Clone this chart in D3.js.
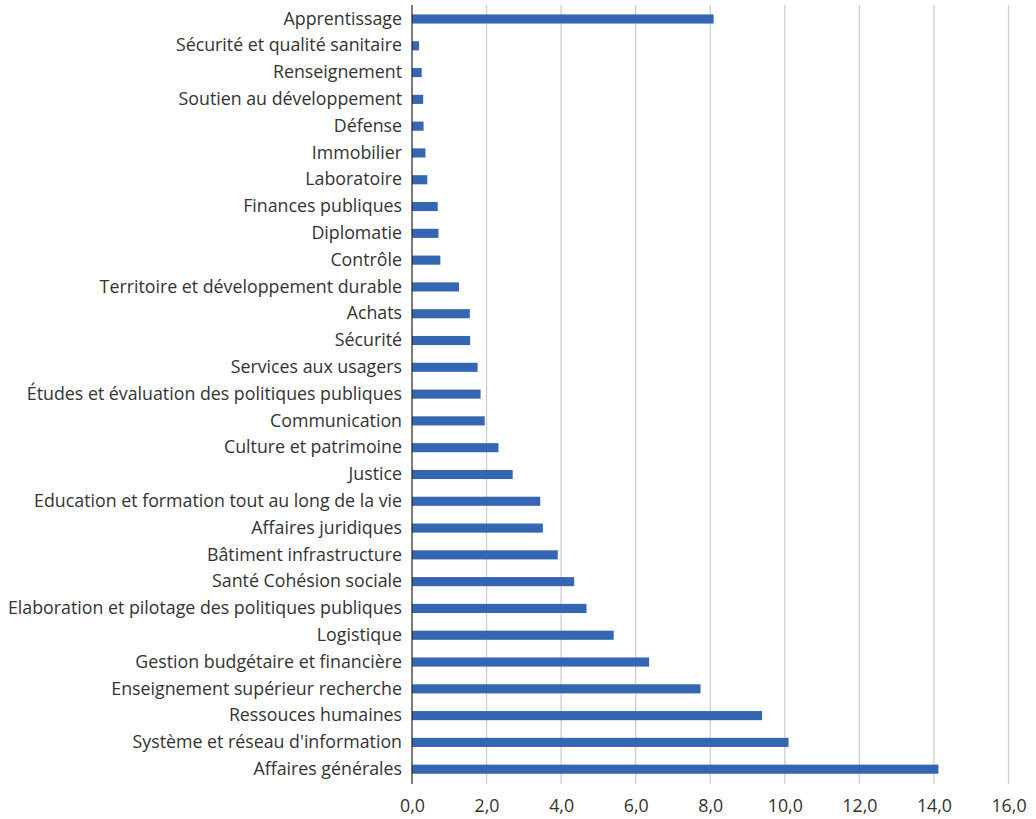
<!DOCTYPE html>
<html><head><meta charset="utf-8">
<script src="https://cdn.jsdelivr.net/npm/d3@7"></script>
<style>
html,body{margin:0;padding:0;background:#fff;}
svg{display:block;}
text{font-family:"Open Sans","Noto Sans",sans-serif;fill:#333;}
</style></head>
<body>
<svg id="chart" width="1036" height="819"></svg>
<script>
const categories = [
  "Apprentissage",
  "Sécurité et qualité sanitaire",
  "Renseignement",
  "Soutien au développement",
  "Défense",
  "Immobilier",
  "Laboratoire",
  "Finances publiques",
  "Diplomatie",
  "Contrôle",
  "Territoire et développement durable",
  "Achats",
  "Sécurité",
  "Services aux usagers",
  "Études et évaluation des politiques publiques",
  "Communication",
  "Culture et patrimoine",
  "Justice",
  "Education et formation tout au long de la vie",
  "Affaires juridiques",
  "Bâtiment infrastructure",
  "Santé Cohésion sociale",
  "Elaboration et pilotage des politiques publiques",
  "Logistique",
  "Gestion budgétaire et financière",
  "Enseignement supérieur recherche",
  "Ressouces humaines",
  "Système et réseau d'information",
  "Affaires générales"
];
const values = [
  8.09, 0.19, 0.26, 0.30, 0.31, 0.36, 0.41, 0.69, 0.71, 0.76,
  1.26, 1.55, 1.56, 1.76, 1.84, 1.95, 2.32, 2.70, 3.44, 3.51,
  3.91, 4.35, 4.68, 5.41, 6.36, 7.74, 9.39, 10.10, 14.12
];
const tickValues = [0, 2, 4, 6, 8, 10, 12, 14, 16];

const svg = d3.select("#chart");
const x = d3.scaleLinear().domain([0, 16]).range([412, 1008.5]);
const y = d3.scaleBand().domain(categories).range([5.6, 782.6])
  .paddingInner(0.66).paddingOuter(0.33);

// gridlines
svg.append("g").selectAll("line").data(tickValues.filter(d => d > 0)).join("line")
  .attr("x1", d => x(d)).attr("x2", d => x(d))
  .attr("y1", 5).attr("y2", 784)
  .attr("stroke", "#cdcdcd").attr("stroke-width", 1.3);

// bars
svg.append("g").selectAll("rect").data(values).join("rect")
  .attr("x", x(0))
  .attr("y", (d, i) => y(categories[i]))
  .attr("width", d => x(d) - x(0))
  .attr("height", y.bandwidth())
  .attr("fill", "#3466b1");

// y axis line
svg.append("line").attr("x1", x(0)).attr("x2", x(0)).attr("y1", 5).attr("y2", 784)
  .attr("stroke", "#222").attr("stroke-width", 1.2);

// category labels
const yAxis = d3.axisLeft(y).tickSize(0).tickPadding(10);
const gy = svg.append("g").attr("transform", `translate(${x(0)},0)`).call(yAxis);
gy.select(".domain").remove();
gy.selectAll("text").style("font-size", "17.8px").attr("fill", "#333")
  .style("font-family", "'Open Sans','Noto Sans',sans-serif");

// x axis labels
const fmt = d => d3.format(".1f")(d).replace(".", ",");
const xAxis = d3.axisBottom(x).tickValues(tickValues).tickFormat(fmt).tickSize(0).tickPadding(15);
const gx = svg.append("g").attr("transform", `translate(0,784)`).call(xAxis);
gx.select(".domain").remove();
gx.selectAll("text").style("font-size", "17.8px").attr("fill", "#333")
  .style("font-family", "'Open Sans','Noto Sans',sans-serif");
</script>
</body></html>
